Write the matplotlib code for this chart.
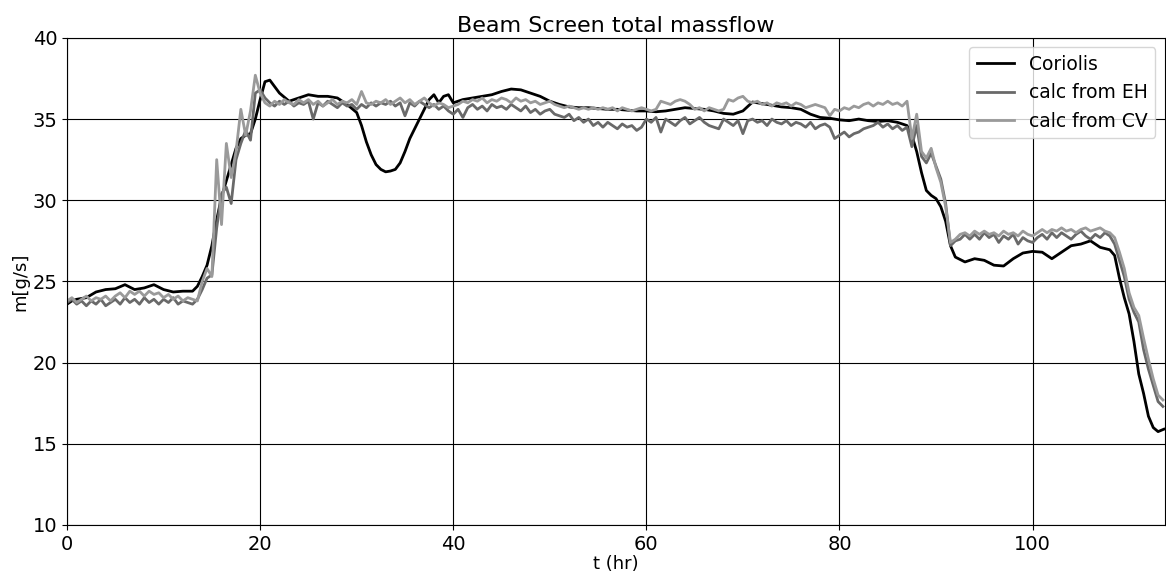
import numpy as np
import matplotlib
matplotlib.use("Agg")
import matplotlib.pyplot as plt

# Coriolis (smooth, black)
t_cor = [0, 0.5, 1, 2, 3, 4, 5, 6, 7, 8, 9, 10, 11, 12, 13, 13.5, 14, 14.5, 15, 15.5,
         16, 16.5, 17, 17.5, 18, 18.5, 19, 19.5, 20, 20.5, 21, 21.5, 22, 23, 24, 25, 26, 27, 28, 29,
         30, 30.5, 31, 31.5, 32, 32.5, 33, 33.5, 34, 34.5, 35, 35.5, 36, 36.5, 37, 37.5, 38, 38.5, 39, 39.5,
         40, 41, 42, 43, 44, 45, 46, 47, 48, 49, 50, 51, 52, 53, 54, 55, 56, 57, 58, 59,
         60, 61, 62, 63, 64, 65, 66, 67, 68, 69, 70, 71, 72, 73, 74, 75, 76, 77, 78, 79,
         80, 81, 82, 83, 84, 85, 86, 87, 87.5, 88, 88.5, 89, 89.5, 90, 90.5, 91, 91.5, 92, 93, 94,
         95, 96, 97, 98, 99, 100, 101, 102, 103, 104, 105, 106, 107, 108, 108.5, 109, 109.5, 110, 110.5, 111,
         111.5, 112, 112.5, 113, 113.6]
coriolis = [23.6, 23.8, 23.9, 24.0, 24.35, 24.5, 24.55, 24.8, 24.5, 24.6, 24.8, 24.5, 24.35, 24.4, 24.4, 24.7, 25.3, 26.0, 27.2, 28.8,
            30.2, 31.2, 32.2, 33.2, 33.8, 34.0, 34.1, 35.0, 36.2, 37.3, 37.4, 37.0, 36.6, 36.1, 36.3, 36.5, 36.4, 36.4, 36.3, 35.9,
            35.4, 34.6, 33.6, 32.8, 32.2, 31.9, 31.75, 31.8, 31.9, 32.3, 33.0, 33.8, 34.4, 35.0, 35.6, 36.2, 36.5, 36.0, 36.4, 36.5,
            36.0, 36.2, 36.3, 36.4, 36.5, 36.7, 36.85, 36.8, 36.6, 36.4, 36.1, 35.9, 35.75, 35.7, 35.7, 35.65, 35.6, 35.6, 35.55, 35.5,
            35.5, 35.45, 35.5, 35.6, 35.7, 35.65, 35.6, 35.5, 35.35, 35.3, 35.5, 36.05, 35.95, 35.85, 35.75, 35.7, 35.6, 35.3, 35.1, 35.05,
            34.95, 34.9, 35.0, 34.9, 34.85, 34.9, 34.8, 34.6, 34.0, 33.0, 31.7, 30.6, 30.3, 30.1, 29.6, 28.7, 27.2, 26.5, 26.2, 26.4,
            26.3, 26.0, 25.95, 26.4, 26.75, 26.85, 26.8, 26.4, 26.8, 27.2, 27.3, 27.5, 27.1, 26.95, 26.6, 25.2, 24.0, 23.0, 21.3, 19.3,
            18.1, 16.7, 16.0, 15.75, 15.9]

# calc series sampled every half hour from 0 to 113.5
t_calc = np.arange(0, 114, 0.5)
calc_eh = [23.7, 23.9, 23.6, 23.8, 23.5, 23.8, 23.6, 23.9, 23.5, 23.7,
           23.9, 23.6, 24.0, 23.7, 23.9, 23.6, 24.0, 23.7, 23.9, 23.6,
           23.9, 23.7, 24.0, 23.6, 23.8, 23.7, 23.6, 23.9, 24.5, 25.2,
           25.4, 28.3, 30.4, 30.8, 29.8, 32.5, 33.5, 34.3, 33.7, 36.6,
           36.8, 36.3, 36.0, 35.8, 36.1, 35.9, 36.1, 35.8, 36.0, 35.9,
           36.1, 35.0, 36.0, 35.8, 36.1, 35.9, 35.7, 36.0, 35.8, 35.9,
           35.6, 35.9, 35.7, 36.0, 35.8, 36.0, 35.9, 36.1, 35.8, 36.0,
           35.2, 36.0, 35.8, 36.1, 35.9, 35.7, 35.9, 35.6, 35.8, 35.5,
           35.3, 35.6, 35.1, 35.7, 35.9, 35.6, 35.8, 35.5, 35.9, 35.7,
           35.8, 35.6, 35.9, 35.7, 35.5, 35.8, 35.4, 35.6, 35.3, 35.5,
           35.6, 35.3, 35.2, 35.1, 35.3, 34.9, 35.1, 34.8, 35.0, 34.6,
           34.8, 34.5, 34.8, 34.6, 34.4, 34.7, 34.5, 34.6, 34.3, 34.5,
           35.0, 34.8, 35.1, 34.2, 35.0, 34.8, 34.6, 34.9, 35.1, 34.7,
           34.9, 35.1, 34.8, 34.6, 34.5, 34.4, 35.0, 34.8, 34.6, 34.9,
           34.1, 34.9, 35.0, 34.8, 34.9, 34.6, 35.0, 34.8, 34.7, 34.9,
           34.6, 34.8, 34.7, 34.5, 34.8, 34.4, 34.6, 34.7, 34.5, 33.8,
           34.0, 34.2, 33.9, 34.1, 34.2, 34.4, 34.5, 34.6, 34.8, 34.5,
           34.7, 34.4, 34.6, 34.3, 34.5, 33.3, 34.6, 32.7, 32.3, 32.9,
           32.1, 31.3, 29.8, 27.2, 27.5, 27.6, 27.9, 27.6, 27.9, 27.6,
           28.0, 27.7, 27.9, 27.4, 27.8, 27.6, 27.9, 27.3, 27.7, 27.5,
           27.4, 27.7, 27.9, 27.6, 28.0, 27.7, 28.0, 27.8, 27.6, 27.9,
           28.1, 27.8, 27.6, 27.9, 27.7, 28.0, 27.8, 27.3, 26.3, 25.3,
           23.9, 23.1, 22.5, 20.8, 19.6, 18.6, 17.6, 17.3]
calc_cv = [23.8, 24.0, 23.7, 23.9, 24.1, 23.8, 24.0, 23.9, 24.1, 23.8,
           24.1, 24.3, 24.0, 24.4, 24.2, 24.4, 24.1, 24.4, 24.2, 24.3,
           24.0, 24.2, 23.9, 24.1, 23.8, 24.0, 23.9, 23.8, 25.0, 25.8,
           25.3, 32.5, 28.5, 33.5, 31.4, 33.0, 35.6, 34.0, 35.5, 37.7,
           36.6, 36.0, 35.8, 36.1, 35.9, 36.2, 36.0, 35.9, 36.2, 36.0,
           36.2, 35.9, 36.1, 35.8, 36.0, 36.2, 35.9, 36.1, 36.0, 36.2,
           35.9, 36.7, 36.0, 35.9, 36.1, 36.0, 36.2, 35.9, 36.1, 36.3,
           36.0, 36.2, 35.9, 36.1, 36.3, 36.0, 35.8, 36.0, 35.9, 35.7,
           35.8, 35.9, 36.1, 36.0, 36.2, 36.1, 36.3, 36.0, 36.2, 36.1,
           36.3, 36.2, 36.0, 36.3, 36.1, 36.2, 36.0, 36.1, 35.9, 36.0,
           36.1, 35.9, 35.8, 35.7, 35.8, 35.7, 35.6, 35.7, 35.6, 35.7,
           35.6, 35.7, 35.6, 35.7, 35.5, 35.7, 35.6, 35.5, 35.6, 35.7,
           35.6, 35.5, 35.6, 36.1, 36.0, 35.9, 36.1, 36.2, 36.1, 35.9,
           35.6, 35.7, 35.5, 35.7, 35.6, 35.5, 35.6, 36.2, 36.1, 36.3,
           36.4, 36.1, 36.0, 36.1, 35.9, 36.0, 35.8, 36.0, 35.9, 36.0,
           35.8, 36.0, 35.9, 35.7, 35.8, 35.9, 35.8, 35.7, 35.2, 35.6,
           35.5, 35.7, 35.6, 35.8, 35.7, 35.9, 36.0, 35.8, 36.0, 35.9,
           36.1, 35.9, 36.0, 35.8, 36.1, 33.8, 35.3, 33.0, 32.6, 33.2,
           32.0, 31.1, 29.6, 27.4, 27.6, 27.9, 28.0, 27.8, 28.1, 27.9,
           28.1, 27.9, 28.0, 27.8, 28.1, 27.9, 28.0, 27.8, 28.1, 27.9,
           27.8, 28.0, 28.2, 28.0, 28.2, 28.1, 28.3, 28.1, 28.2, 28.0,
           28.2, 28.3, 28.1, 28.2, 28.3, 28.1, 28.0, 27.7, 26.8, 25.8,
           24.3, 23.4, 22.9, 21.5, 20.2, 19.0, 18.0, 17.7]

fig = plt.figure(figsize=(11.66, 5.74), dpi=100)
ax = fig.add_axes([0.0575, 0.0854, 0.9415, 0.8486])

ax.plot(t_cor, coriolis, color="black", lw=2, label="Coriolis")
ax.plot(t_calc, calc_eh, color="#696969", lw=2, label="calc from EH")
ax.plot(t_calc, calc_cv, color="#9a9a9a", lw=2, label="calc from CV")

ax.set_xlim(0, 113.7)
ax.set_ylim(10, 40)
ax.set_xticks([0, 20, 40, 60, 80, 100])
ax.set_yticks([10, 15, 20, 25, 30, 35, 40])
ax.grid(True, color="black", lw=0.8)
ax.tick_params(labelsize=14)
ax.set_title("Beam Screen total massflow", fontsize=16, pad=4)
ax.set_xlabel("t (hr)", fontsize=13, labelpad=1)
ax.set_ylabel("m[g/s]", fontsize=13, labelpad=2)
ax.legend(loc="upper right", fontsize=13.5)

fig.savefig("out.png", dpi=100)
